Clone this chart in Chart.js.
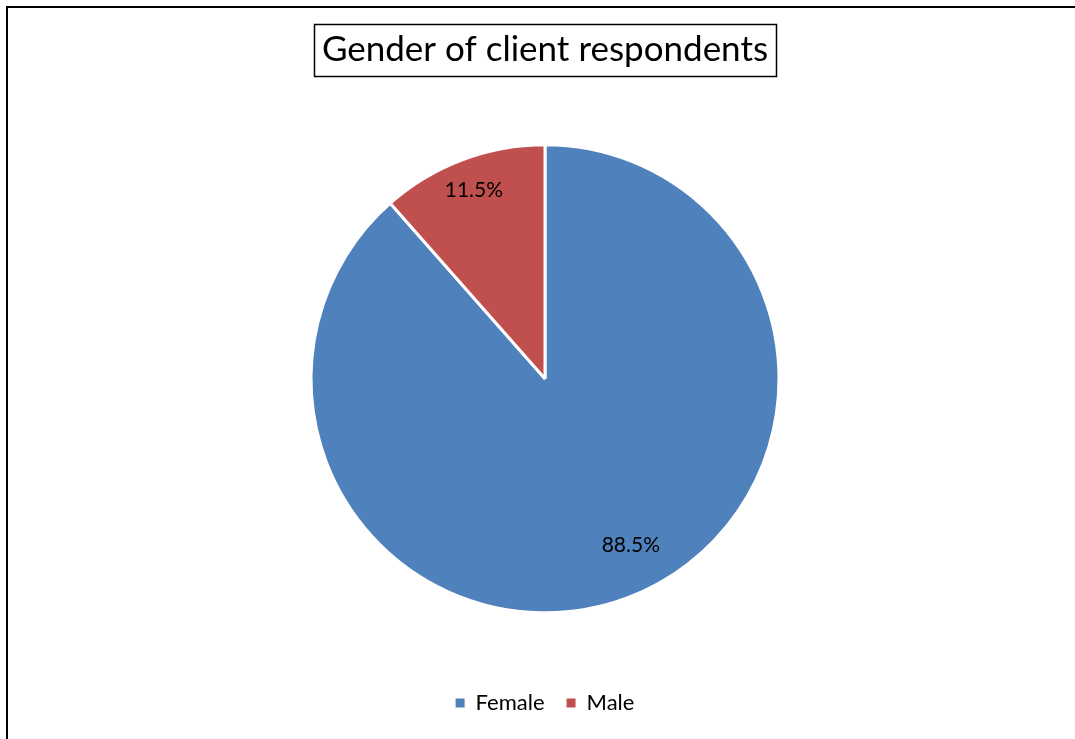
<!DOCTYPE html>
<html>
<head>
<meta charset="utf-8">
<script src="https://cdn.jsdelivr.net/npm/chart.js@4.4.1/dist/chart.umd.min.js"></script>
<style>
  html, body { margin: 0; padding: 0; background: #ffffff; overflow: hidden; }
  #wrap { position: relative; width: 1075px; height: 739px; }
  #frame { position: absolute; left: 6px; top: 6px; width: 1200px; height: 900px;
           border-top: 2px solid #000; border-left: 2px solid #000; pointer-events: none; }
  canvas { position: absolute; left: 0; top: 0; }
</style>
</head>
<body>
<div id="wrap">
  <canvas id="c" width="1075" height="739"></canvas>
  <div id="frame"></div>
</div>
<script>
const chartTitle = 'Gender of client respondents';
const categories = ['Female', 'Male'];
const percentages = [88.5, 11.5];
const sliceColors = ['#4F81BD', '#C0504D'];

const FONT = 'Lato, "Open Sans", "DejaVu Sans", sans-serif';

// label placement (style only)
const labelRadiusFrac = [0.80, 0.86];
const labelAngleShift = [-0.115, 0.0];

const titleBoxPlugin = {
  id: 'titleBox',
  afterDraw(chart) {
    const tb = chart.titleBlock;
    if (!tb) return;
    const ctx = chart.ctx;
    const opts = chart.options.plugins.title;
    ctx.save();
    ctx.font = opts.font.size + 'px ' + FONT;
    const w = ctx.measureText(opts.text).width;
    const cx = (tb.left + tb.right) / 2;
    const cy = tb.top + opts.padding.top + opts.font.size * opts.font.lineHeight / 2;
    const padX = 8, halfH = 26;
    ctx.strokeStyle = '#000';
    ctx.lineWidth = 1.5;
    ctx.strokeRect(Math.round(cx - w / 2 - padX) + 0.5, Math.round(cy - halfH) + 0.5,
                   Math.round(w + 2 * padX), halfH * 2);
    ctx.restore();
  }
};

const dataLabelPlugin = {
  id: 'sliceLabels',
  afterDatasetsDraw(chart) {
    const ctx = chart.ctx;
    const meta = chart.getDatasetMeta(0);
    const ds = chart.data.datasets[0];
    ctx.save();
    ctx.font = '21px ' + FONT;
    ctx.fillStyle = '#000';
    ctx.textAlign = 'center';
    ctx.textBaseline = 'middle';
    meta.data.forEach((arc, i) => {
      const p = arc.getProps(['x', 'y', 'startAngle', 'endAngle', 'outerRadius'], true);
      const mid = (p.startAngle + p.endAngle) / 2 + labelAngleShift[i];
      const r = p.outerRadius * labelRadiusFrac[i];
      ctx.fillText(ds.data[i].toFixed(1) + '%', p.x + Math.cos(mid) * r, p.y + Math.sin(mid) * r);
    });
    ctx.restore();
  }
};

new Chart(document.getElementById('c'), {
  type: 'pie',
  data: {
    labels: categories,
    datasets: [{
      data: percentages,
      backgroundColor: sliceColors,
      borderColor: '#ffffff',
      borderWidth: 3,
      radius: 234
    }]
  },
  options: {
    responsive: false,
    animation: false,
    layout: { padding: { left: 15, right: 0, top: 0, bottom: 15 } },
    plugins: {
      title: {
        display: true,
        text: chartTitle,
        color: '#000',
        font: { family: FONT, size: 35, weight: 'normal', lineHeight: 1.2 },
        padding: { top: 29, bottom: 16.5 }
      },
      legend: {
        display: true,
        position: 'bottom',
        labels: {
          color: '#000',
          font: { family: FONT, size: 22 },
          boxWidth: 9,
          boxHeight: 9,
          padding: 22,
          generateLabels(chart) {
            const ds = chart.data.datasets[0];
            return chart.data.labels.map((l, i) => ({
              text: l,
              fillStyle: ds.backgroundColor[i],
              strokeStyle: ds.backgroundColor[i],
              lineWidth: 0,
              hidden: false,
              index: i
            }));
          }
        }
      },
      tooltip: { enabled: false }
    }
  },
  plugins: [titleBoxPlugin, dataLabelPlugin]
});
</script>
</body>
</html>
